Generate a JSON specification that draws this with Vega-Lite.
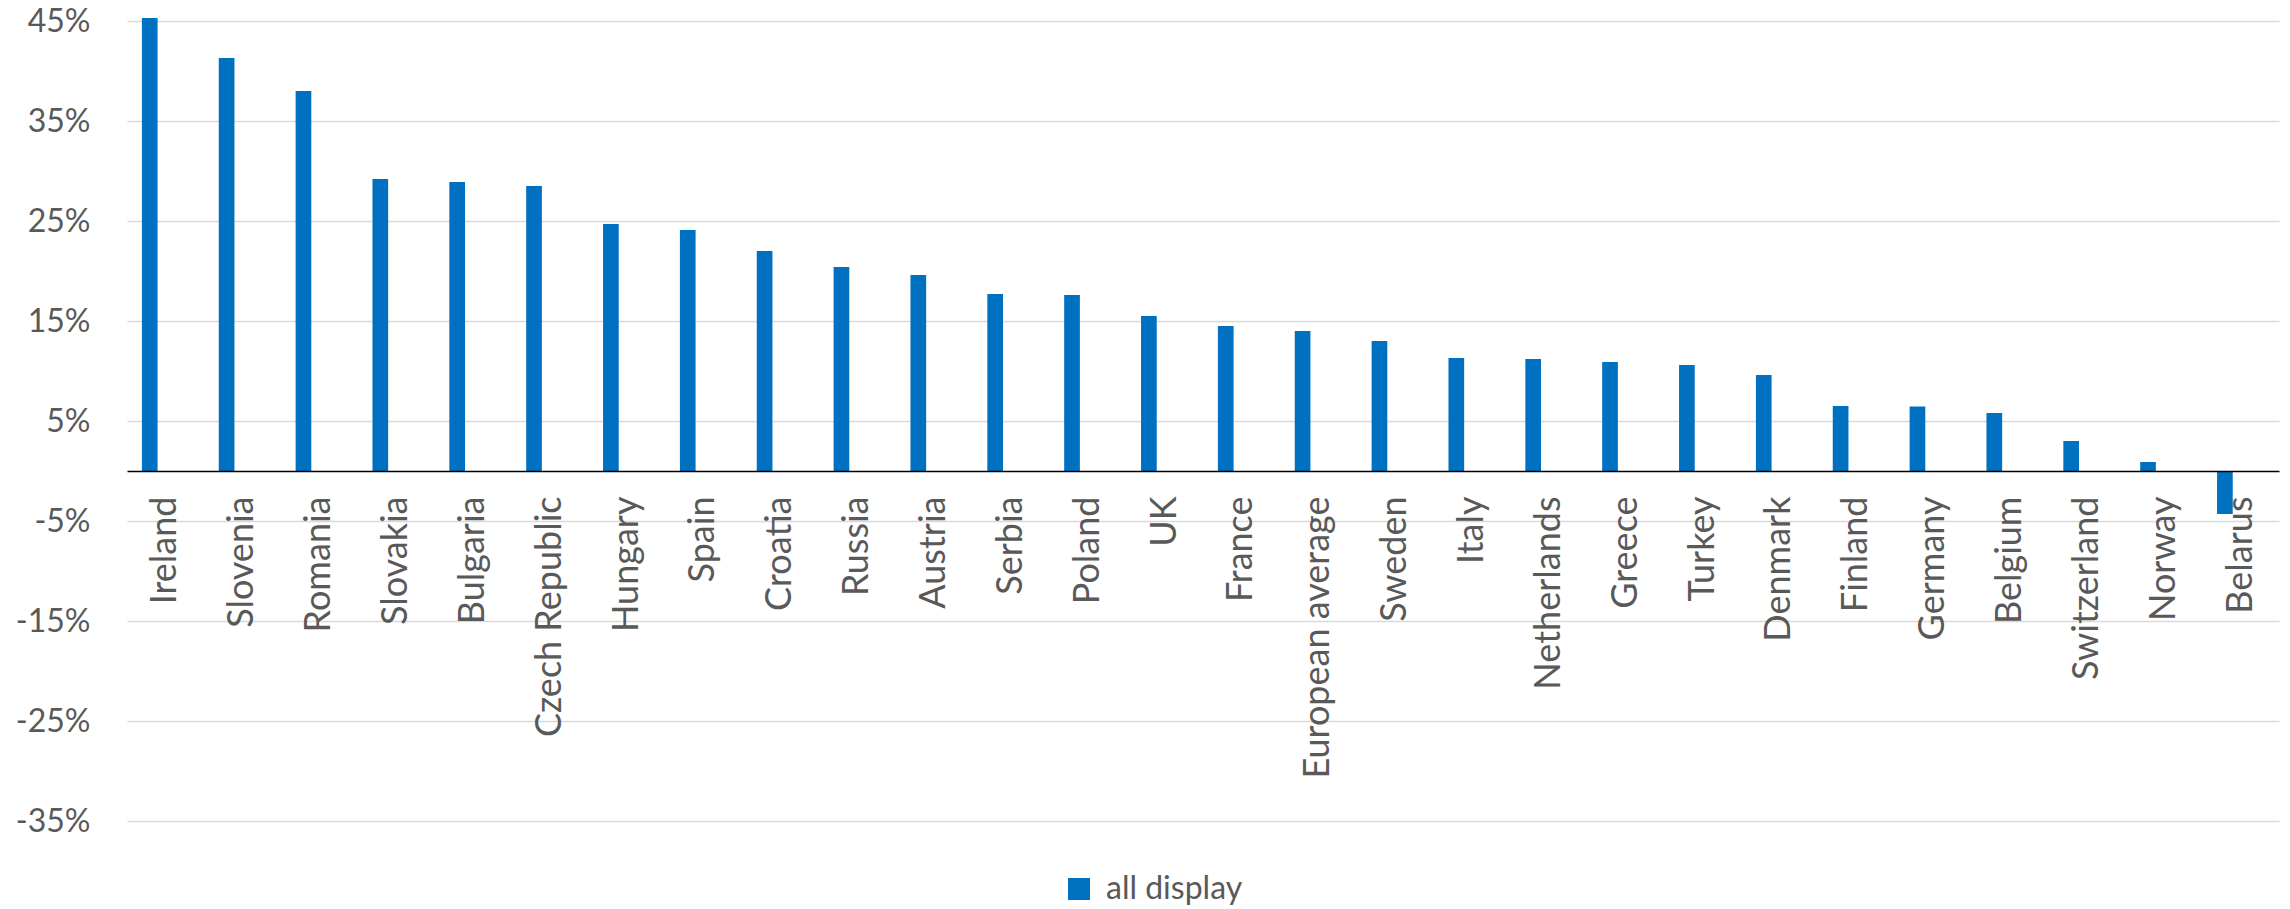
{
  "$schema": "https://vega.github.io/schema/vega-lite/v6.json",
  "width": 2152,
  "height": 800,
  "autosize": {"type": "none"},
  "padding": {"left": 127, "top": 21, "right": 11, "bottom": 88},
  "background": "white",
  "config": {"view": {"stroke": null}, "font": "Lato"},
  "data": {
    "values": [
      {"country": "Ireland", "series": "all display", "value": 45.3},
      {"country": "Slovenia", "series": "all display", "value": 41.3},
      {"country": "Romania", "series": "all display", "value": 38.0},
      {"country": "Slovakia", "series": "all display", "value": 29.2},
      {"country": "Bulgaria", "series": "all display", "value": 28.9},
      {"country": "Czech Republic", "series": "all display", "value": 28.5},
      {"country": "Hungary", "series": "all display", "value": 24.7},
      {"country": "Spain", "series": "all display", "value": 24.1},
      {"country": "Croatia", "series": "all display", "value": 22.0},
      {"country": "Russia", "series": "all display", "value": 20.4},
      {"country": "Austria", "series": "all display", "value": 19.6},
      {"country": "Serbia", "series": "all display", "value": 17.7},
      {"country": "Poland", "series": "all display", "value": 17.6},
      {"country": "UK", "series": "all display", "value": 15.5},
      {"country": "France", "series": "all display", "value": 14.5},
      {"country": "European average", "series": "all display", "value": 14.0},
      {"country": "Sweden", "series": "all display", "value": 13.0},
      {"country": "Italy", "series": "all display", "value": 11.3},
      {"country": "Netherlands", "series": "all display", "value": 11.2},
      {"country": "Greece", "series": "all display", "value": 10.9},
      {"country": "Turkey", "series": "all display", "value": 10.6},
      {"country": "Denmark", "series": "all display", "value": 9.6},
      {"country": "Finland", "series": "all display", "value": 6.5},
      {"country": "Germany", "series": "all display", "value": 6.45},
      {"country": "Belgium", "series": "all display", "value": 5.8},
      {"country": "Switzerland", "series": "all display", "value": 3.0},
      {"country": "Norway", "series": "all display", "value": 0.9},
      {"country": "Belarus", "series": "all display", "value": -4.3}
    ]
  },
  "mark": {"type": "bar"},
  "encoding": {
    "x": {
      "field": "country",
      "type": "nominal",
      "sort": null,
      "scale": {"paddingInner": 0, "paddingOuter": 0},
      "axis": {
        "title": null,
        "orient": "bottom",
        "offset": -350,
        "labelAngle": -90,
        "labelFontSize": 36,
        "labelColor": "#595959",
        "labelPadding": 25,
        "labelLimit": 0,
        "ticks": false,
        "domainColor": "#000000",
        "domainWidth": 1.5,
        "grid": false,
        "zindex": 1
      }
    },
    "xOffset": {
      "field": "series",
      "type": "nominal",
      "scale": {"domain": ["all display", "s2", "s3"], "paddingInner": 0, "paddingOuter": 0.95}
    },
    "y": {
      "field": "value",
      "type": "quantitative",
      "scale": {"domain": [-35, 45], "nice": false, "zero": false},
      "axis": {
        "title": null,
        "values": [-35, -25, -15, -5, 5, 15, 25, 35, 45],
        "labelExpr": "datum.value + '%'",
        "domain": false,
        "ticks": false,
        "gridColor": "#d9d9d9",
        "gridWidth": 1.5,
        "labelFontSize": 32,
        "labelColor": "#595959",
        "labelPadding": 37
      }
    },
    "color": {
      "field": "series",
      "type": "nominal",
      "scale": {"range": ["#0070C0"]},
      "legend": {
        "title": null,
        "orient": "none",
        "legendX": 936,
        "legendY": 852,
        "symbolType": "square",
        "symbolSize": 484,
        "symbolStrokeWidth": 0,
        "labelFontSize": 32,
        "labelColor": "#595959",
        "labelOffset": 11
      }
    }
  }
}
